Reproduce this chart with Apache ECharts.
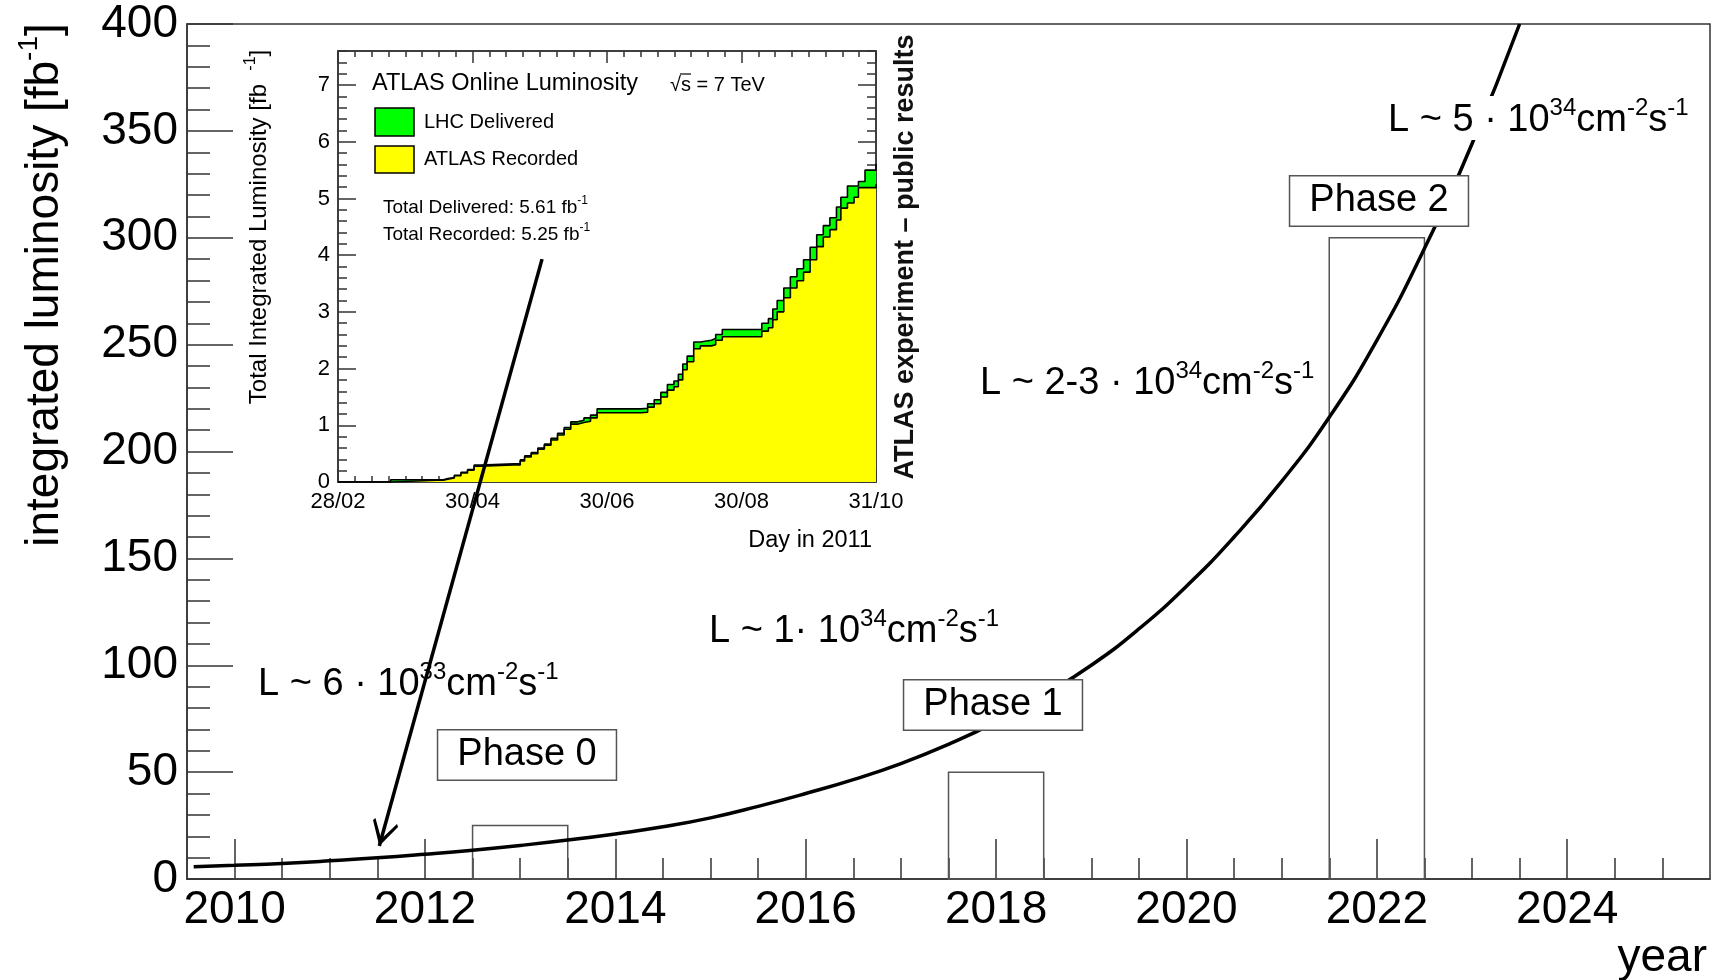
<!DOCTYPE html>
<html><head><meta charset="utf-8">
<script src="https://cdn.jsdelivr.net/npm/echarts@6/dist/echarts.min.js"></script>
<style>html,body{margin:0;padding:0;background:#fff}#c{width:1716px;height:980px}</style>
</head><body><div id="c"></div>
<script>
const FONT = '"Liberation Sans", Arial, Helvetica, sans-serif';

// ---- main chart data ----
const curveYears  = [2009.57, 2010, 2010.5, 2011, 2011.5, 2012, 2012.5, 2013, 2013.5, 2014, 2014.5, 2015, 2015.5, 2016, 2016.5, 2017, 2017.5, 2018, 2018.5, 2019, 2019.5, 2020, 2020.5, 2021, 2021.5, 2022, 2022.5, 2023, 2023.5];
const curveValues = [5.7, 6.4, 7.3, 8.5, 9.9, 11.6, 13.5, 15.7, 18.2, 21.1, 24.4, 28.6, 34, 40, 46.5, 54, 63, 73.5, 86, 100, 117, 137, 160, 186, 216, 252, 295, 344, 400];

const phaseNames  = ['Phase 0', 'Phase 1', 'Phase 2'];
const phaseStart  = [2012.5, 2017.5, 2021.5];
const phaseEnd    = [2013.5, 2018.5, 2022.5];
const phaseHeight = [25, 50, 300];

const majorYears = [2010, 2012, 2014, 2016, 2018, 2020, 2022, 2024];
const minorYears = [2010, 2010.5, 2011, 2011.5, 2012, 2012.5, 2013, 2013.5, 2014, 2014.5, 2015, 2015.5, 2016, 2016.5, 2017, 2017.5, 2018, 2018.5, 2019, 2019.5, 2020, 2020.5, 2021, 2021.5, 2022, 2022.5, 2023, 2023.5, 2024, 2024.5, 2025];

const arrowFrom = [2013.23, 290];
const arrowTo   = [2011.52, 15.4];

// ---- inset data (days since 28/02/2011) ----
const insetDays     = [0, 23, 24, 45, 48, 50, 53, 56, 59, 62, 65, 80, 83, 85, 88, 91, 94, 97, 100, 103, 106, 109, 112, 115, 118, 138, 141, 144, 147, 150, 153, 155, 157, 159, 162, 165, 170, 172, 175, 190, 193, 196, 198, 200, 203, 206, 209, 212, 215, 218, 221, 224, 227, 229, 232, 235, 237, 240, 245];
const deliveredVals = [0, 0, 0.04, 0.04, 0.06, 0.08, 0.12, 0.17, 0.22, 0.30, 0.32, 0.32, 0.39, 0.46, 0.52, 0.60, 0.67, 0.77, 0.86, 0.96, 1.06, 1.09, 1.13, 1.18, 1.29, 1.30, 1.38, 1.45, 1.58, 1.72, 1.78, 1.90, 2.08, 2.22, 2.47, 2.50, 2.53, 2.60, 2.69, 2.69, 2.80, 2.88, 3.05, 3.20, 3.42, 3.62, 3.76, 3.92, 4.14, 4.36, 4.52, 4.66, 4.85, 5.02, 5.22, 5.22, 5.30, 5.50, 5.61];
const recordedVals  = [0, 0, 0.03, 0.03, 0.05, 0.07, 0.11, 0.16, 0.21, 0.28, 0.30, 0.30, 0.37, 0.44, 0.50, 0.58, 0.65, 0.74, 0.83, 0.93, 1.02, 1.05, 1.07, 1.13, 1.22, 1.23, 1.32, 1.38, 1.50, 1.62, 1.68, 1.80, 1.98, 2.12, 2.35, 2.40, 2.42, 2.50, 2.56, 2.56, 2.66, 2.72, 2.86, 3.00, 3.25, 3.42, 3.55, 3.70, 3.92, 4.15, 4.32, 4.45, 4.62, 4.83, 4.92, 5.02, 5.19, 5.19, 5.25];
const dayLabels  = ['28/02', '30/04', '30/06', '30/08', '31/10'];
const insetYTicks = [0, 1, 2, 3, 4, 5, 6, 7];

const GREEN = '#00ff00', YELLOW = '#ffff00';
const FRAME = '#333';

function supText(parts) { // parts: [[text, isSup], ...]
  return parts.map(p => '{' + (p[1] ? 's' : 'm') + '|' + p[0] + '}').join('');
}
function richStyle(main, sup) {
  return {
    m: {fontSize: main, fontFamily: FONT, fill: '#000', lineHeight: Math.round(main * 1.15), verticalAlign: 'bottom'},
    s: {fontSize: sup, fontFamily: FONT, fill: '#000', lineHeight: sup, verticalAlign: 'top'}
  };
}
function lumLabel(x, y, pre, exp, bg) {
  return {
    type: 'text', x: x, y: y, z: 10,
    style: Object.assign({
      text: supText([[pre, 0], [exp, 1], ['cm', 0], ['-2', 1], ['s', 0], ['-1', 1]]),
      rich: richStyle(38, 24), align: 'left', verticalAlign: 'middle'
    }, bg ? {backgroundColor: '#fff'} : {})
  };
}
function phaseLabel(cx, cy, txt) {
  return {
    type: 'text', x: cx, y: cy, z: 10,
    style: {text: txt, fontSize: 38, fontFamily: FONT, fill: '#000', align: 'center', verticalAlign: 'middle',
      backgroundColor: '#fff', borderColor: '#555', borderWidth: 1.5, padding: [5, 19, 5, 19], lineHeight: 39}
  };
}

const chart = echarts.init(document.getElementById('c'), null, {renderer: 'canvas'});
const mainTick = {color: FRAME, width: 1.5};

chart.setOption({
  animation: false,
  backgroundColor: '#fff',
  textStyle: {fontFamily: FONT},
  grid: [
    {left: 187, top: 24, width: 1523, height: 855, show: true, borderColor: FRAME, borderWidth: 1.5, backgroundColor: 'transparent'},
    {left: 338, top: 51, width: 538, height: 431, show: true, borderColor: FRAME, borderWidth: 1.5, backgroundColor: 'transparent'}
  ],
  xAxis: [
    {gridIndex: 0, type: 'value', min: 2009.5, max: 2025.5, position: 'bottom',
      axisLine: {show: true, onZero: false, lineStyle: mainTick},
      axisTick: {show: true, inside: true, length: 40, customValues: majorYears, lineStyle: mainTick},
      axisLabel: {customValues: majorYears, fontSize: 46, color: '#000', margin: 8, fontFamily: FONT, formatter: v => String(v)},
      splitLine: {show: false}},
    {gridIndex: 0, type: 'value', min: 2009.5, max: 2025.5, position: 'bottom',
      axisLine: {show: false, onZero: false},
      axisTick: {show: true, inside: true, length: 21, customValues: minorYears, lineStyle: mainTick},
      axisLabel: {show: false}, splitLine: {show: false}},
    {gridIndex: 1, type: 'value', min: 0, max: 245, interval: 61.25, position: 'bottom',
      axisLine: {show: true, onZero: false, lineStyle: mainTick},
      axisTick: {show: true, inside: true, length: 12, lineStyle: mainTick},
      minorTick: {show: true, splitNumber: 8, length: 6, lineStyle: mainTick},
      axisLabel: {fontSize: 22, color: '#000', margin: 9, fontFamily: FONT, formatter: (v, i) => dayLabels[i]},
      splitLine: {show: false}},
    {gridIndex: 1, type: 'value', min: 0, max: 245, interval: 61.25, position: 'top',
      axisLine: {show: true, onZero: false, lineStyle: mainTick},
      axisTick: {show: true, inside: true, length: 12, lineStyle: mainTick},
      minorTick: {show: true, splitNumber: 8, length: 6, lineStyle: mainTick},
      axisLabel: {show: false}, splitLine: {show: false}}
  ],
  yAxis: [
    {gridIndex: 0, type: 'value', min: 0, max: 400, interval: 50, position: 'left',
      axisLine: {show: true, onZero: false, lineStyle: mainTick},
      axisTick: {show: true, inside: true, length: 46, lineStyle: mainTick},
      minorTick: {show: true, splitNumber: 5, length: 23, lineStyle: mainTick},
      axisLabel: {fontSize: 46, color: '#000', margin: 9, fontFamily: FONT},
      splitLine: {show: false}},
    {gridIndex: 1, type: 'value', min: 0, max: 7.6, position: 'left',
      axisLine: {show: true, onZero: false, lineStyle: mainTick},
      axisTick: {show: true, inside: true, length: 18, customValues: insetYTicks, lineStyle: mainTick},
      axisLabel: {customValues: insetYTicks, fontSize: 22, color: '#000', margin: 8, fontFamily: FONT},
      splitLine: {show: false}},
    {gridIndex: 1, type: 'value', min: 0, max: 7.6, interval: 0.2, position: 'left',
      axisLine: {show: false, onZero: false},
      axisTick: {show: true, inside: true, length: 9, lineStyle: mainTick},
      axisLabel: {show: false}, splitLine: {show: false}},
    {gridIndex: 1, type: 'value', min: 0, max: 7.6, position: 'right',
      axisLine: {show: true, onZero: false, lineStyle: mainTick},
      axisTick: {show: true, inside: true, length: 18, customValues: insetYTicks, lineStyle: mainTick},
      axisLabel: {show: false}, splitLine: {show: false}},
    {gridIndex: 1, type: 'value', min: 0, max: 7.6, interval: 0.2, position: 'right',
      axisLine: {show: false, onZero: false},
      axisTick: {show: true, inside: true, length: 9, lineStyle: mainTick},
      axisLabel: {show: false}, splitLine: {show: false}}
  ],
  series: [
    {type: 'custom', name: 'phases', xAxisIndex: 0, yAxisIndex: 0, z: 1, silent: true,
      data: phaseStart.map((s, i) => [s, phaseEnd[i], phaseHeight[i]]),
      encode: {x: [0, 1], y: 2},
      renderItem: (params, api) => {
        const p0 = api.coord([api.value(0), api.value(2)]);
        const p1 = api.coord([api.value(1), 0]);
        return {type: 'rect', shape: {x: p0[0], y: p0[1], width: p1[0] - p0[0], height: p1[1] - p0[1]},
          style: {fill: 'none', stroke: '#555', lineWidth: 1.5}};
      }},
    {type: 'line', name: 'integrated luminosity', xAxisIndex: 0, yAxisIndex: 0, z: 3, silent: true,
      data: curveYears.map((y, i) => [y, curveValues[i]]),
      smooth: true, showSymbol: false, symbol: 'none',
      lineStyle: {color: '#000', width: 3.5}},
    {type: 'line', name: 'LHC Delivered', xAxisIndex: 2, yAxisIndex: 1, z: 2, silent: true,
      data: insetDays.map((d, i) => [d, deliveredVals[i]]), step: 'end', symbol: 'none',
      lineStyle: {color: '#000', width: 1.6}, areaStyle: {color: GREEN, opacity: 1}},
    {type: 'line', name: 'ATLAS Recorded', xAxisIndex: 2, yAxisIndex: 1, z: 3, silent: true,
      data: insetDays.map((d, i) => [d, recordedVals[i]]), step: 'end', symbol: 'none',
      lineStyle: {color: '#000', width: 1.6}, areaStyle: {color: YELLOW, opacity: 1}},
    {type: 'line', name: 'arrow', xAxisIndex: 0, yAxisIndex: 0, z: 30, data: [], silent: true,
      markLine: {silent: true, z: 30, animation: false,
        symbol: ['none', 'path://M50,0 L50.2,0 L50,0.2 Z M50,50 L100,95 L93,100 L50,64 L7,100 L0,95 Z'],
        symbolSize: [26, 52],
        label: {show: false},
        lineStyle: {color: '#000', width: 3.5, type: 'solid'},
        emphasis: {disabled: true},
        data: [[{coord: arrowFrom}, {coord: arrowTo}]]}}
  ],
  graphic: [
    {type: 'text', x: 42, y: 285, rotation: Math.PI / 2, z: 10,
      style: {text: supText([['integrated luminosity [fb', 0], ['-1', 1], [']', 0]]), rich: richStyle(46, 28), align: 'center', verticalAlign: 'middle'}},
    {type: 'text', x: 1707, y: 958, z: 10,
      style: {text: 'year', fontSize: 46, fontFamily: FONT, fill: '#000', align: 'right', verticalAlign: 'middle'}},
    lumLabel(258, 682, 'L ~ 6 · 10', '33', false),
    lumLabel(709, 629, 'L ~ 1· 10', '34', false),
    lumLabel(980, 381, 'L ~ 2-3 · 10', '34', false),
    lumLabel(1388, 118, 'L ~ 5 · 10', '34', true),
    phaseLabel(527, 755, phaseNames[0]),
    phaseLabel(993, 705, phaseNames[1]),
    phaseLabel(1379, 201, phaseNames[2]),
    // inset texts
    {type: 'text', x: 257, y: 227, rotation: Math.PI / 2, z: 10,
      style: {text: supText([['Total Integrated Luminosity [fb  ', 0], ['-1', 1], [']', 0]]), rich: richStyle(24, 16), align: 'center', verticalAlign: 'middle'}},
    {type: 'text', x: 906, y: 257, rotation: Math.PI / 2, z: 10,
      style: {text: 'ATLAS experiment – public results', fontSize: 27, fontWeight: 'bold', fontFamily: FONT, fill: '#111', align: 'center', verticalAlign: 'middle'}},
    {type: 'text', x: 872, y: 541, z: 10,
      style: {text: 'Day in 2011', fontSize: 23.5, fontFamily: FONT, fill: '#000', align: 'right', verticalAlign: 'middle'}},
    {type: 'text', x: 372, y: 84, z: 10,
      style: {text: 'ATLAS Online Luminosity', fontSize: 23.5, fontFamily: FONT, fill: '#000', align: 'left', verticalAlign: 'middle'}},
    {type: 'text', x: 670, y: 85, z: 10,
      style: {text: '√s = 7 TeV', fontSize: 20, fontFamily: FONT, fill: '#000', align: 'left', verticalAlign: 'middle'}},
    {type: 'line', z: 10, shape: {x1: 680, y1: 74, x2: 691, y2: 74}, style: {stroke: '#000', lineWidth: 1.2}},
    {type: 'rect', z: 10, shape: {x: 375, y: 108, width: 39, height: 28}, style: {fill: GREEN, stroke: '#000', lineWidth: 1.5}},
    {type: 'rect', z: 10, shape: {x: 375, y: 146, width: 39, height: 27}, style: {fill: YELLOW, stroke: '#000', lineWidth: 1.5}},
    {type: 'text', x: 424, y: 122, z: 10,
      style: {text: 'LHC Delivered', fontSize: 20, fontFamily: FONT, fill: '#000', align: 'left', verticalAlign: 'middle'}},
    {type: 'text', x: 424, y: 159, z: 10,
      style: {text: 'ATLAS Recorded', fontSize: 20, fontFamily: FONT, fill: '#000', align: 'left', verticalAlign: 'middle'}},
    {type: 'text', x: 383, y: 206, z: 10,
      style: {text: supText([['Total Delivered: 5.61 fb', 0], ['-1', 1]]), rich: richStyle(19, 12), align: 'left', verticalAlign: 'middle'}},
    {type: 'text', x: 383, y: 233, z: 10,
      style: {text: supText([['Total Recorded: 5.25 fb', 0], ['-1', 1]]), rich: richStyle(19, 12), align: 'left', verticalAlign: 'middle'}}
  ]
});
</script></body></html>
